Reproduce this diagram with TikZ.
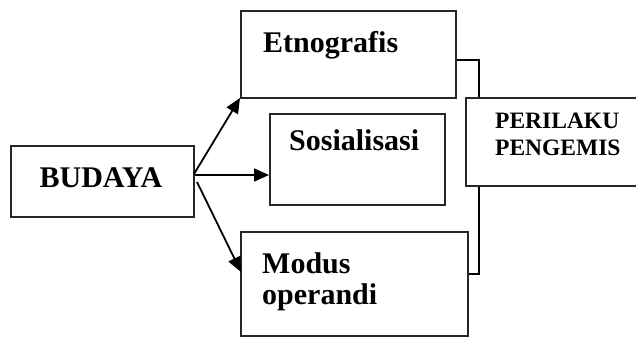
\documentclass[tikz,border=0pt]{standalone}
\usepackage{fontspec}
\setmainfont{Liberation Serif}
\usetikzlibrary{arrows.meta}
\begin{document}
\begin{tikzpicture}[x=1pt,y=-1pt,
  boxshape/.style={draw=black!85, line width=1.5pt, inner sep=0pt},
  lbl/.style={inner sep=0pt, anchor=base west, align=left, font=\bfseries\fontsize{30}{31.5}\selectfont},
  smalllbl/.style={inner sep=0pt, anchor=base west, align=left, font=\bfseries\fontsize{23.5}{27}\selectfont},
  arr/.style={line width=1.8pt, -{Triangle[length=15pt,width=13pt]}},
  link/.style={line width=1.2pt}]
\useasboundingbox[fill=white] (0,0) rectangle (636,340);
% boxes
\node[boxshape, minimum width=183pt, minimum height=71pt, anchor=north west] (budaya) at (10,145) {};
\node[boxshape, minimum width=215pt, minimum height=87pt, anchor=north west] (etno) at (240,10) {};
\node[boxshape, minimum width=175pt, minimum height=91pt, anchor=north west] (sosial) at (269,113) {};
\node[boxshape, minimum width=227pt, minimum height=104pt, anchor=north west] (modus) at (240,231) {};
\node[boxshape, minimum width=185pt, minimum height=88pt, anchor=north west] (perilaku) at (465,97) {};
% texts
\node[lbl, anchor=base] (tbudaya) at (101,187) {BUDAYA};
\node[lbl] (tetno) at (263,52) {Etnografis};
\node[lbl] (tsosial) at (289,150) {Sosialisasi};
\node[lbl, anchor=north west] (tmodus) at (262,252) {Modus\\operandi};
\node[smalllbl, anchor=north west] (tperilaku) at (495,113) {PERILAKU\\PENGEMIS};
% arrows
\coordinate (s1) at (194,174);
\coordinate (s2) at (195,175);
\coordinate (s3) at (197,182);
\coordinate (e1) at (240,98);
\coordinate (e3) at (241,272);
\draw[arr] (s1) -- (e1);
\draw[arr] (s2) -- (sosial.west |- s2);
\draw[arr] (s3) -- (e3);
% links to PERILAKU
\coordinate (j1) at (479,60);
\coordinate (j2) at (479,274);
\draw[link] (etno.east |- j1) -- (j1) -- (j1 |- perilaku.north);
\draw[link] (modus.east |- j2) -- (j2) -- (j2 |- perilaku.south);
\end{tikzpicture}
\end{document}
